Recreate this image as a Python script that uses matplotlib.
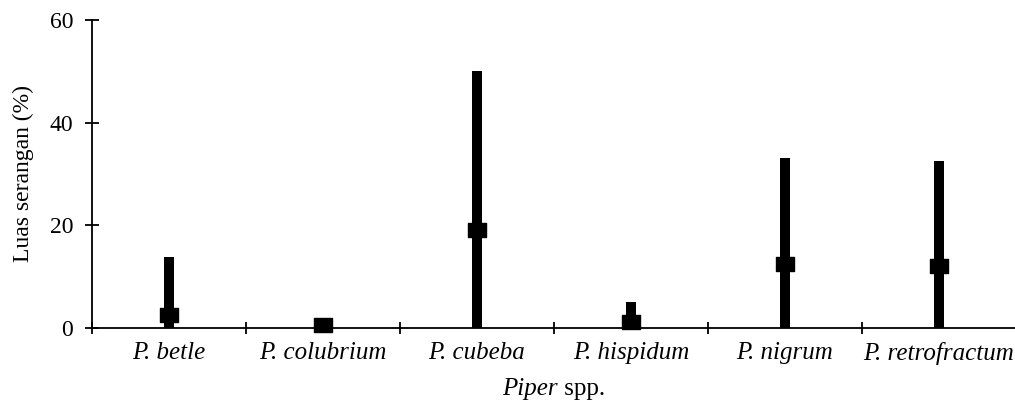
import matplotlib
matplotlib.use("Agg")
import matplotlib.pyplot as plt
import numpy as np
from matplotlib.path import Path

categories = ["P. betle", "P. colubrium", "P. cubeba", "P. hispidum", "P. nigrum", "P. retrofractum"]
max_values = [13.9, 2.0, 50.0, 5.1, 33.2, 32.6]
mean_values = [2.6, 0.5, 19.1, 1.2, 12.4, 12.1]
min_values = [0, 0, 0, 0, 0, 0]
y_ticks = [0, 20, 40, 60]

plt.rcParams['font.family'] = ['Liberation Serif', 'DejaVu Serif']

W, H = 1015, 400
fig = plt.figure(figsize=(W / 100, H / 100), dpi=100)
ax = fig.add_axes([92 / W, 72 / H, (1016 - 92) / W, (328 - 20) / H])

x = np.arange(len(categories)) + 0.5
ax.vlines(x, min_values, max_values, colors='black', linewidth=7.2, zorder=3)

rect = Path([(-1, -0.79), (1, -0.79), (1, 0.79), (-1, 0.79), (-1, -0.79)],
            [Path.MOVETO, Path.LINETO, Path.LINETO, Path.LINETO, Path.CLOSEPOLY])
ax.plot(x, mean_values, linestyle='none', marker=rect, markersize=13.5,
        color='black', zorder=4, clip_on=False)

ax.set_xlim(0, len(categories))
ax.set_ylim(0, 60)
ax.set_yticks(y_ticks)
ax.set_yticklabels([str(t) for t in y_ticks], fontsize=17)

ax.set_xticks(np.arange(len(categories) + 1))
ax.set_xticklabels([])
ax.set_xticks(x, minor=True)
ax.set_xticklabels(categories, minor=True, fontsize=18, style='italic')
ax.tick_params(axis='x', which='minor', length=0, pad=10)
ax.tick_params(axis='x', which='major', direction='inout', length=8.5, width=1.3)
ax.tick_params(axis='y', direction='inout', length=10, width=1.3, pad=8.5)

for s in ['top', 'right']:
    ax.spines[s].set_visible(False)
for s in ['left', 'bottom']:
    ax.spines[s].set_linewidth(1.3)
    ax.spines[s].set_zorder(5)

ax.set_ylabel("Luas serangan (%)", fontsize=17, labelpad=11)

# x-axis title: italic "Piper" followed by upright " spp."
t1 = fig.text(0, 0, "Piper", fontsize=18, style='italic', va='baseline')
t2 = fig.text(0, 0, " spp.", fontsize=18, va='baseline')
fig.canvas.draw()
r = fig.canvas.get_renderer()
w1 = t1.get_window_extent(r).width
w2 = t2.get_window_extent(r).width
cx = (92 + 1016) / 2
y0 = 1 - 395 / H
t1.set_position(((cx - (w1 + w2) / 2) / W, y0))
t2.set_position(((cx - (w1 + w2) / 2 + w1) / W, y0))

fig.savefig("out.png", dpi=100)
